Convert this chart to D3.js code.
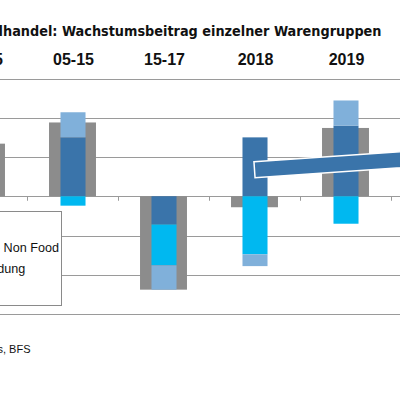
<!DOCTYPE html>
<html><head><meta charset="utf-8">
<script src="https://cdn.jsdelivr.net/npm/d3@7"></script>
<style>body{margin:0;background:#fff}svg{display:block;font-family:"Liberation Sans",Arial,sans-serif}</style>
</head><body>
<svg id="c" width="400" height="395"></svg>
<script>
const title = "Detailhandel: Wachstumsbeitrag einzelner Warengruppen";
const source = "Quelle: Credit Suisse Investment Solutions & Products, BFS";
const categories = ["00-05","05-15","15-17","2018","2019"];
const total      = [0.67, 0.94, -1.19, -0.14, 0.87];
const food       = [0.50, 0.75, -0.36, 0.75, 0.90];
const bekleidung = [-0.13, -0.12, -0.52, -0.74, -0.35];
const nonFood    = [0.30, 0.32, -0.31, -0.15, 0.32];
const yTicks = [-1.5,-1.0,-0.5,0,0.5,1.0,1.5];
const legendLabels = ["Total","Übrige Non Food","Bekleidung","Food"];
const arrowStart = {cat: 3, value: 0.337};
const arrowEnd   = {cat: 4.92, value: 0.49};

const colors = {total:"#8c8c8c", food:"#3a74aa", bekleidung:"#00b8f0", nonFood:"#80b0da"};
const svg = d3.select("#c");
const x = d3.scaleBand().domain(categories).range([-64,391]).padding(0);
const xi = d3.scaleLinear().domain([0,1]).range([-64+x.step()/2, -64+x.step()*1.5]);
const y = d3.scaleLinear().domain([-1.5,1.5]).range([314,78.5]);

// title
svg.append("text").attr("x",381.5).attr("y",36).attr("text-anchor","end")
  .attr("font-family","'Liberation Sans Narrow','DejaVu Sans Condensed',sans-serif")
  .attr("font-size",14.3).attr("font-weight","bold").attr("fill","#111").text(title);
// category labels
svg.append("g").selectAll("text").data(categories).join("text")
  .attr("x",d=>x(d)+x.bandwidth()/2+1).attr("y",65).attr("text-anchor","middle")
  .attr("font-size",16).attr("font-weight","bold").attr("fill","#111").text(d=>d);

// gridlines
svg.append("g").selectAll("line").data(yTicks).join("line")
  .attr("x1",0).attr("x2",400).attr("y1",d=>Math.round(y(d))+0.5).attr("y2",d=>Math.round(y(d))+0.5)
  .attr("stroke","#9a9a9a").attr("stroke-width",1);

// total bars
const gw = x.step()*0.516, bw = x.step()*0.275;
svg.append("g").selectAll("rect").data(categories.map((c,i)=>({c,v:total[i]}))).join("rect")
  .attr("x",d=>x(d.c)+x.bandwidth()/2-gw/2).attr("width",gw)
  .attr("y",d=>y(Math.max(0,d.v))).attr("height",d=>Math.abs(y(d.v)-y(0)))
  .attr("fill",colors.total);

// stacked bars
const rows = categories.map((c,i)=>({c, food:food[i], bekleidung:bekleidung[i], nonFood:nonFood[i]}));
const stack = d3.stack().keys(["food","bekleidung","nonFood"]).offset(d3.stackOffsetDiverging)(rows);
svg.append("g").selectAll("g").data(stack).join("g").attr("fill",d=>colors[d.key])
  .selectAll("rect").data(d=>d).join("rect")
  .attr("x",d=>x(d.data.c)+x.bandwidth()/2-bw/2+0.5).attr("width",bw)
  .attr("y",d=>y(Math.max(d[0],d[1]))).attr("height",d=>Math.abs(y(d[0])-y(d[1])));

// ticks at band boundaries
const bounds = categories.map(c=>x(c)).concat([x(categories[categories.length-1])+x.step()]);
svg.append("g").selectAll("line").data(bounds).join("line")
  .attr("x1",d=>d+0.5).attr("x2",d=>d+0.5).attr("y1",y(0)).attr("y2",y(0)+4.5)
  .attr("stroke","#9a9a9a");

// legend box (partially visible)
const lg = svg.append("g");
lg.append("rect").attr("x",-120).attr("y",211.5).attr("width",181.5).attr("height",94)
  .attr("fill","#fff").attr("stroke","#8a8a8a").attr("stroke-width",1);
const legColors=[colors.total,colors.nonFood,colors.bekleidung,colors.food];
lg.selectAll("rect.sw").data(legendLabels).join("rect").attr("class","sw")
  .attr("x",-100).attr("y",(d,i)=>221+i*21).attr("width",30).attr("height",12).attr("fill",(d,i)=>legColors[i]);
lg.selectAll("text").data(legendLabels).join("text")
  .attr("x",-37).attr("y",(d,i)=>230.7+i*21).attr("font-size",12.6).attr("fill","#111").text(d=>d);

// trend arrow annotation
const p0=[xi(arrowStart.cat),y(arrowStart.value)], p1=[xi(arrowEnd.cat),y(arrowEnd.value)];
const ang=Math.atan2(p1[1]-p0[1],p1[0]-p0[0]), hw=8;
const nx=-Math.sin(ang)*hw, ny=Math.cos(ang)*hw;
svg.append("path")
  .attr("d",`M${p0[0]-nx},${p0[1]-ny}L${p1[0]-nx},${p1[1]-ny}L${p1[0]+nx},${p1[1]+ny}L${p0[0]+nx},${p0[1]+ny}Z`)
  .attr("fill",colors.food).attr("stroke","#fff").attr("stroke-width",1.5);

// source
svg.append("text").attr("x",30.5).attr("y",353).attr("text-anchor","end")
  .attr("font-size",11).attr("fill","#111").text(source);
</script>
</body></html>
